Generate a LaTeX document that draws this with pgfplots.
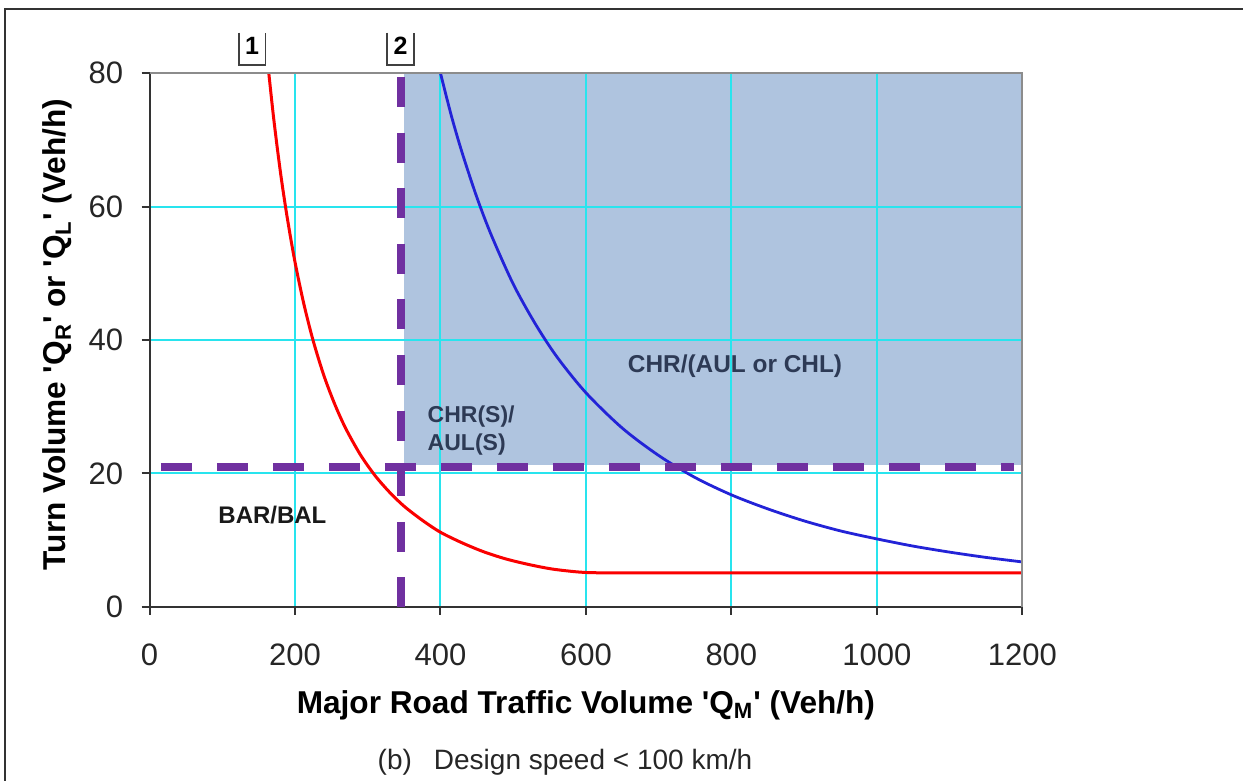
\documentclass[border=0pt]{standalone}
\usepackage{fontspec}
\setmainfont{Liberation Sans}[Ligatures=TeXOff]
\usepackage{pgfplots}
\pgfplotsset{compat=1.18}
\definecolor{shade}{RGB}{175,196,223}
\definecolor{gridc}{RGB}{40,228,238}
\definecolor{dpurple}{RGB}{112,48,160}
\definecolor{lbl}{RGB}{45,58,85}
\definecolor{bblue}{RGB}{35,35,215}
\definecolor{rred}{RGB}{250,0,0}

\pgfplotstableread{
x y
164 80
170 73.9
176 68.5
182 63.6
190 57.9
200 51.7
212 45.5
225 39.9
240 34.6
255 30.3
270 26.7
290 22.8
310 19.7
330 17.2
350 15.1
375 13.0
400 11.2
430 9.6
460 8.25
490 7.2
520 6.4
550 5.75
575 5.4
600 5.17
640 5.1
700 5.1
800 5.1
1000 5.1
1200 5.1
}\redcurve

\pgfplotstableread{
x y
400 80
415 73.6
430 68.0
450 61.4
470 55.7
500 48.4
530 42.5
560 37.5
600 32.1
650 26.8
700 22.7
750 19.4
800 16.8
850 14.7
900 12.9
950 11.4
1000 10.2
1050 9.12
1100 8.22
1150 7.43
1200 6.75
}\bluecurve

\begin{document}
\begin{tikzpicture}
% frame
\draw[line width=1pt, black!80] (2.5pt,0) -- (2.5pt,386pt) -- (621.5pt,386pt);
\begin{axis}[
  at={(74.75pt,87pt)}, anchor=south west,
  width=436.4pt, height=267pt, scale only axis,
  xmin=0, xmax=1200, ymin=0, ymax=80,
  xtick={0,200,...,1200}, ytick={0,20,...,80},
  axis lines=left, axis line style={-, black!80, line width=1pt},
  tick align=outside, major tick length=4pt,
  tick style={black!80, line width=1pt},
  grid=major, major grid style={gridc, line width=1pt},
  set layers, clip=false,
  tick label style={font=\fontsize{15.5}{15.5}\selectfont, text=black!85},
  /pgf/number format/assume math mode=true,
  /pgf/number format/set thousands separator={},
  xticklabel style={anchor=north, inner sep=0pt, yshift=-14pt},
  yticklabel style={anchor=east, inner sep=0pt, xshift=-9pt},
  xlabel={Major Road Traffic Volume 'Q\textsubscript{M}' (Veh/h)},
  ylabel={Turn Volume 'Q\textsubscript{R}' or 'Q\textsubscript{L}' (Veh/h)},
  xlabel style={at={(axis description cs:0.5,-0.1835)}, anchor=center, font=\bfseries\fontsize{15.8}{15.8}\selectfont},
  ylabel style={at={(axis description cs:-0.1054,0.51)}, anchor=center, font=\bfseries\fontsize{15.8}{15.8}\selectfont},
]
% shaded region
\addplot[on layer=axis background, fill=shade, draw=none] coordinates {(350,21.2) (1200,21.2) (1200,80) (350,80)} -- cycle;
% curves
\addplot[rred, line width=1.5pt, smooth] table {\redcurve};
\addplot[bblue, line width=1.4pt, smooth] table {\bluecurve};
% dashed purple lines
\addplot[dpurple, line width=4pt, dash pattern=on 15.5pt off 12.5pt] coordinates {(15.8,20.9) (1188,20.9)};
\addplot[dpurple, line width=4pt, dash pattern=on 15pt off 12.8pt] coordinates {(345.6,79.4) (345.6,-0.5)};
% labels
\node[font=\bfseries\fontsize{12.2}{12.2}\selectfont, text=lbl] at (axis cs:805,36.1) {CHR/(AUL or CHL)};
\node[font=\bfseries\fontsize{11.5}{14.25}\selectfont, text=lbl, anchor=west, align=left, inner sep=0pt] at (axis cs:382,26.4) {CHR(S)/\\AUL(S)};
\node[font=\bfseries\fontsize{12}{12}\selectfont, text=black!90] at (axis cs:169,13.8) {BAR/BAL};
% numbered boxes
\node[font=\bfseries\fontsize{12.5}{12.5}\selectfont, minimum width=13pt, minimum height=16pt, inner sep=0pt] (b1) at (axis cs:141,83.6) {};
\node[font=\bfseries\fontsize{12.5}{12.5}\selectfont, minimum width=13pt, minimum height=16pt, inner sep=0pt] (b2) at (axis cs:345.1,83.6) {};
\node[font=\bfseries\fontsize{12.5}{12.5}\selectfont, inner sep=0pt] at ([yshift=1.5pt]b1.center) {1};
\node[font=\bfseries\fontsize{12.5}{12.5}\selectfont, inner sep=0pt] at ([yshift=1.5pt]b2.center) {2};
\draw[line width=0.9pt, black!75] (b1.north west) -- (b1.south west) -- (b1.south east) -- (b1.north east);
\draw[line width=0.9pt, black!75] (b2.north west) -- (b2.south west) -- (b2.south east) -- (b2.north east);
\coordinate (tl) at (rel axis cs:0,1);
\coordinate (tr) at (rel axis cs:1,1);
\coordinate (br) at (rel axis cs:1,0);
\end{axis}
\draw[black!45, line width=1pt] (tl) -- (tr) -- (br);
\node[font=\fontsize{14}{14}\selectfont, text=black!85] at (282.5pt,9.5pt) {(b)\hspace{11pt}Design speed < 100 km/h};
\pgfresetboundingbox
\useasboundingbox (0,0) rectangle (621.5pt,390.5pt);
\end{tikzpicture}
\end{document}
